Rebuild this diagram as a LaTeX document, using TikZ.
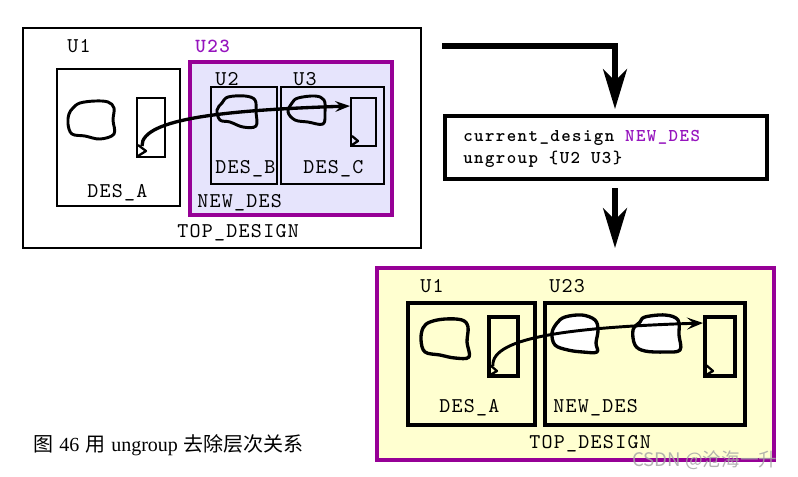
\documentclass[tikz,border=0pt]{standalone}
\usepackage{fontspec}
\setmainfont{Liberation Serif}
\newfontfamily\cjk{Noto Sans CJK SC}
\newfontfamily\codefont[LetterSpace=6]{lmmono10-regular.otf}
\newfontfamily\codebold[LetterSpace=8]{lmmonolt10-bold.otf}
\usetikzlibrary{arrows.meta,fit}
\definecolor{pborder}{RGB}{150,0,150}
\definecolor{ptext}{RGB}{150,20,190}
\definecolor{lav}{RGB}{230,228,252}
\definecolor{yel}{RGB}{255,255,208}
\tikzset{
  box/.style={draw, inner sep=0pt},
  blob/.style={draw, line width=2.2pt, line join=round},
  lbl/.style={anchor=base west, inner sep=0pt, font=\codefont\fontsize{15.75}{18}\selectfont},
  lblb/.style={anchor=base west, inner sep=0pt, font=\codebold\fontsize{15}{18}\selectfont},
  cmdtxt/.style={anchor=base west, inner sep=0pt, font=\codebold\fontsize{13.5}{16}\selectfont},
  wire/.style={line width=2.5pt, -{Stealth[length=11pt,width=8pt,inset=4pt]}},
  wiretwo/.style={line width=2.2pt, -{Stealth[length=12pt,width=9pt,inset=5pt]}},
  hook/.style={draw, line width=1.7pt, line join=round},
  bigarrow/.style={line width=3.8pt, -{Stealth[length=30pt,width=18pt,inset=9pt]}},
}
\begin{document}
\begin{tikzpicture}[x=0.75pt,y=-0.75pt]
\useasboundingbox (0,0) rectangle (798,476);
\fill[white] (0,0) rectangle (798,476);

% ---------- top design ----------
\node[box, line width=2pt, fill=white, fit={(23,28)(421,248)}] (top) {};
\node[box, draw=pborder, fill=lav, line width=2.7pt, fit={(190,62)(392,215)}] (u23) {};
\node[box, line width=2.1pt, fit={(57,69)(180,206)}] (desA) {};
\node[box, line width=2.1pt, fit={(211,87)(277,184)}] (u2) {};
\node[box, line width=2.1pt, fit={(281,87)(384,184)}] (u3) {};
\node[box, line width=2pt, fit={(137,98)(165,157)}] (pA) {};
\node[box, line width=2pt, fit={(351,98)(376,146)}] (pC) {};

\draw[blob] plot[smooth cycle, tension=0.6] coordinates {(80,103) (95,101) (108,102) (114,108) (113,120) (114,134) (100,139) (85,136) (72,134) (68,124) (69,114) (73,108)};
\draw[blob] plot[smooth cycle, tension=0.6] coordinates {(228,97) (245,96) (255,100) (256,112) (256,126) (243,127) (230,122) (220,120) (217,110) (222,103)};
\draw[blob] plot[smooth cycle, tension=0.6] coordinates {(298,98) (315,96) (324,100) (325,112) (323,124) (308,122) (295,120) (288,112) (292,103)};

\draw[hook] (138,145) -- (146,151) -- (138,156);
\draw[hook] (352,136) -- (358,141) -- (352,145);
\coordinate (sA) at (142,146);
\coordinate (eC) at (350,106);
\draw[wire] (sA) .. controls (141,118) and (230,110) .. (eC);

\node[lbl] (tU1) at (67,52) {U1};
\node[lblb, text=ptext] (tU23) at (195,52) {U23};
\node[lbl] (tU2) at (215,85) {U2};
\node[lbl] (tU3) at (293,85) {U3};
\node[lbl] (tB) at (215,173) {DES\_B};
\node[lbl] (tC) at (303,173) {DES\_C};
\node[lbl] (tA) at (87,197) {DES\_A};
\node[lbl] (tN) at (197,207) {NEW\_DES};
\node[lbl] (tT) at (177,237) {TOP\_DESIGN};

% ---------- command ----------
\node[box, line width=3pt, fill=white, fit={(445,116)(767,179)}] (cmd) {};
\node[cmdtxt] (l1) at (463,141) {current\_design \textcolor{ptext}{NEW\_DES}};
\node[cmdtxt] (l2) at (463,163) {ungroup \{U2 U3\}};

\coordinate (h0) at (442,46);
\coordinate (h1) at (615,109);
\draw[bigarrow] (h0) -| (h1);
\coordinate (v0) at (615,188);
\coordinate (v1) at (615,248);
\draw[bigarrow] (v0) -- (v1);

% ---------- bottom design ----------
\node[box, draw=pborder, fill=yel, line width=3pt, fit={(377,268)(774,460)}] (top2) {};
\node[box, line width=3pt, fit={(408,303)(535,425)}] (desA2) {};
\node[box, line width=3pt, fit={(545,303)(745,425)}] (new2) {};
\node[box, line width=2.4pt, fit={(489,317)(518,376)}] (pA2) {};
\node[box, line width=2.4pt, fit={(705,317)(735,376)}] (pC2) {};

\draw[blob, line width=2.5pt] plot[smooth cycle, tension=0.6] coordinates {(430,322) (445,319) (462,320) (468,327) (467,342) (469,357) (455,358) (440,355) (425,352) (421,340) (423,328)};
\draw[blob, line width=2.5pt, fill=white] plot[smooth cycle, tension=0.6] coordinates {(565,317) (582,315) (595,320) (598,330) (596,343) (597,352) (583,352) (568,350) (555,345) (552,333) (557,323)};
\draw[blob, line width=2.5pt, fill=white] plot[smooth cycle, tension=0.6] coordinates {(645,317) (665,315) (678,320) (679,335) (680,350) (665,352) (645,351) (635,345) (633,330) (640,322)};

\draw[hook] (490,365) -- (497,371) -- (490,375);
\draw[hook] (706,365) -- (713,371) -- (706,375);
\coordinate (sA2) at (493,366);
\coordinate (eC2) at (703,323);
\draw[wiretwo] (sA2) .. controls (490,336) and (580,327) .. (eC2);

\node[lbl] (bU1) at (420,292) {U1};
\node[lbl] (bU23) at (549,292) {U23};
\node[lbl] (bA) at (439,412) {DES\_A};
\node[lbl] (bN) at (553,412) {NEW\_DES};
\node[lbl] (bT) at (529,448) {TOP\_DESIGN};

% ---------- caption & watermark ----------
\node[anchor=base west, inner sep=0pt, font=\fontsize{15}{17}\selectfont] (cap) at (33,451) {{\cjk 图}\hspace{0.3em}46\hspace{0.3em}{\cjk 用}\hspace{0.3em}ungroup\hspace{0.3em}{\cjk 去除层次关系}};
\node[anchor=base west, inner sep=0pt, text=black!35, opacity=0.85, font=\cjk\fontsize{14}{16}\selectfont] (wm) at (632,466) {CSDN @沧海一升};
\end{tikzpicture}
\end{document}
